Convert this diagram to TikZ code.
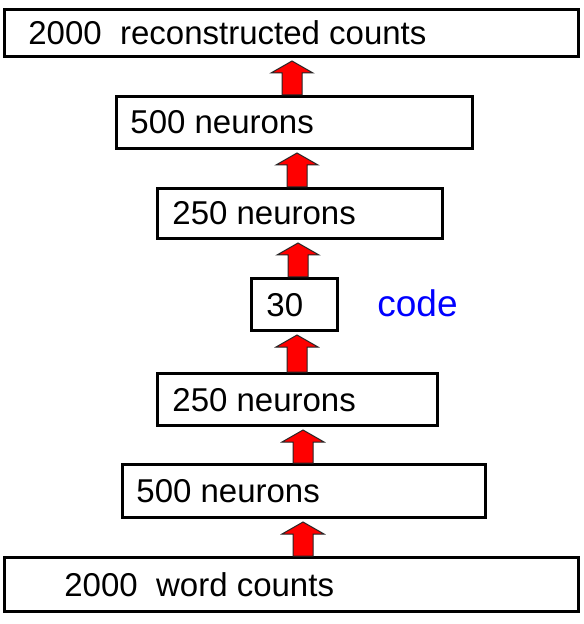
\documentclass[tikz,border=0pt]{standalone}
\usepackage{fontspec}
\setmainfont{Liberation Sans}
\usetikzlibrary{calc}
\tikzset{
  box/.style={draw=black, line width=1.5pt, fill=white, inner sep=0pt},
  txt/.style={inner sep=0pt, anchor=base west, font=\fontsize{16.5}{20}\selectfont},
  codetxt/.style={inner sep=0pt, anchor=base west, text=blue, font=\fontsize{18.5}{22}\selectfont},
  blockarr/.style={fill=red, draw=black!85, line width=0.5pt, line join=miter}
}
\newcommand\uparr[3]{%
  \coordinate (ax) at (#3,0);
  \draw[blockarr] ($(ax |- #1.north)+(-5pt,0)$) -- ($(ax |- #2.south)+(-5pt,-7.5pt)$)
    -- ($(ax |- #2.south)+(-10.5pt,-7.5pt)$) -- ($(ax |- #2.south)+(0,-1.5pt)$)
    -- ($(ax |- #2.south)+(10.5pt,-7.5pt)$) -- ($(ax |- #2.south)+(5pt,-7.5pt)$)
    -- ($(ax |- #1.north)+(5pt,0)$) -- cycle;}
\begin{document}
\begin{tikzpicture}[x=0.5pt,y=-0.5pt]
\useasboundingbox (0,0) rectangle (583,624);
% boxes
\node[box, minimum width=287pt, minimum height=23.5pt] (b1) at (291.5,33) {};
\node[box, minimum width=178pt, minimum height=26pt] (b2) at (294.5,122.5) {};
\node[box, minimum width=142.5pt, minimum height=25pt] (b3) at (300,213.5) {};
\node[box, minimum width=43pt, minimum height=26pt] (b4) at (294.5,304.5) {};
\node[box, minimum width=140pt, minimum height=26pt] (b5) at (297.5,399.5) {};
\node[box, minimum width=181.5pt, minimum height=26.5pt] (b6) at (304,491) {};
\node[box, minimum width=287pt, minimum height=27pt] (b7) at (291.5,584.5) {};
% texts
\node[txt] (t1) at (28,44.5) {2000\ \ reconstructed counts};
\node[txt] (t2) at (130,134) {500 neurons};
\node[txt] (t3) at (172,225) {250 neurons};
\node[txt] (t4) at (266,316) {30};
\node[codetxt] (t0) at (377,316) {code};
\node[txt] (t5) at (172,411) {250 neurons};
\node[txt] (t6) at (136,502.5) {500 neurons};
\node[txt] (t7) at (64,596) {2000\ \ word counts};
% arrows
\uparr{b2}{b1}{292}
\uparr{b3}{b2}{297}
\uparr{b4}{b3}{298}
\uparr{b5}{b4}{297}
\uparr{b6}{b5}{303}
\uparr{b7}{b6}{303}
\end{tikzpicture}
\end{document}
